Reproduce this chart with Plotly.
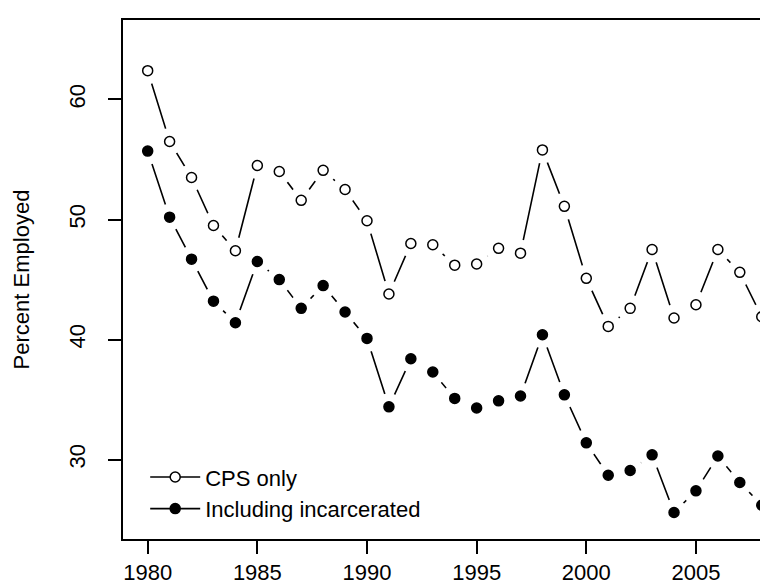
import plotly.graph_objects as go

# Years
years = list(range(1980, 2009))

# Percent employed, CPS only
cps_only = [62.4, 56.5, 53.5, 49.5, 47.4, 54.5, 54.0, 51.6, 54.1, 52.5,
            49.9, 43.8, 48.0, 47.9, 46.2, 46.3, 47.6, 47.2, 55.8, 51.1,
            45.1, 41.1, 42.6, 47.5, 41.8, 42.9, 47.5, 45.6, 41.9]

# Percent employed, including incarcerated
incl_incarc = [55.7, 50.2, 46.7, 43.2, 41.4, 46.5, 45.0, 42.6, 44.5, 42.3,
               40.1, 34.4, 38.4, 37.3, 35.1, 34.3, 34.9, 35.3, 40.4, 35.4,
               31.4, 28.7, 29.1, 30.4, 25.6, 27.4, 30.3, 28.1, 26.2]

x_ticks = [1980, 1985, 1990, 1995, 2000, 2005]
y_ticks = [30, 40, 50, 60]

FONT = "Liberation Sans, Arial, Helvetica, sans-serif"

fig = go.Figure()

# R type="b": line, then white halo round each point to leave a gap, then the point
def add_series(y, name, fill):
    fig.add_trace(go.Scatter(x=years, y=y, mode="lines+markers", name=name,
                             line={"color": "black", "width": 1.6},
                             marker={"size": 10, "color": fill, "line": {"color": "black", "width": 1.5}}))
    fig.add_trace(go.Scatter(x=years, y=y, mode="markers", showlegend=False, hoverinfo="skip",
                             marker={"size": 27, "color": "white", "line": {"width": 0}}))
    fig.add_trace(go.Scatter(x=years, y=y, mode="markers", showlegend=False, name=name,
                             marker={"size": 10, "color": fill, "line": {"color": "black", "width": 1.5}}))

add_series(cps_only, "CPS only", "white")
add_series(incl_incarc, "Including incarcerated", "black")

fig.update_xaxes(range=[1978.874, 2008.65], tickvals=x_ticks, ticks="outside", ticklen=13,
                 tickwidth=1.5, tickcolor="black", showline=True, linecolor="black", linewidth=1.5,
                 mirror=True, showgrid=False, zeroline=False, ticklabelstandoff=0,
                 tickfont={"size": 22, "color": "black", "family": FONT})
fig.update_yaxes(range=[23.39, 66.62], tickvals=y_ticks, ticks="outside", ticklen=13,
                 tickwidth=1.5, tickcolor="black", showline=True, linecolor="black", linewidth=1.5,
                 mirror=False, showgrid=False, zeroline=False, tickangle=-90, ticklabelstandoff=14,
                 tickfont={"size": 22, "color": "black", "family": FONT},
                 title={"text": "Percent Employed", "standoff": 30,
                        "font": {"size": 22, "color": "black", "family": FONT}})

fig.update_layout(width=768, height=582, plot_bgcolor="white", paper_bgcolor="white",
                  margin={"l": 115, "r": 0, "t": 12, "b": 51},
                  legend={"x": 0.034, "y": 0.017, "xanchor": "left", "yanchor": "bottom",
                          "itemwidth": 50, "bgcolor": "rgba(0,0,0,0)", "tracegroupgap": 0,
                          "font": {"size": 22, "color": "black", "family": FONT}})

fig.write_html("out.html")
